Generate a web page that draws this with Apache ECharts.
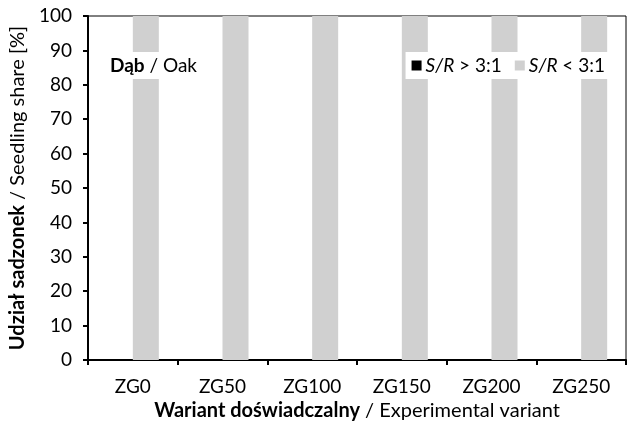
<!DOCTYPE html>
<html><head><meta charset="utf-8">
<script src="https://cdn.jsdelivr.net/npm/echarts@6/dist/echarts.min.js"></script>
<style>html,body{margin:0;padding:0;background:#fff}#c{width:631px;height:426px}</style>
</head><body><div id="c"></div>
<script>
const categories = ['ZG0','ZG50','ZG100','ZG150','ZG200','ZG250'];
const seriesAbove = [0,0,0,0,0,0];      // S/R > 3:1
const seriesBelow = [100,100,100,100,100,100]; // S/R < 3:1
const yTicks = [0,10,20,30,40,50,60,70,80,90,100];

const FONT = 'Lato';
const FS = 19;
const FN = 20;
const chart = echarts.init(document.getElementById('c'), null, {renderer:'canvas'});
chart.setOption({
  animation:false,
  textStyle:{fontFamily:FONT, color:'#000'},
  grid:{left:88, right:5, top:16, bottom:66, show:true, borderColor:'#000', borderWidth:1, backgroundColor:'transparent'},
  title:{
    text:'{b|Dąb} / Oak', left:104, top:52,
    backgroundColor:'#fff', padding:[4,6,4,6],
    textStyle:{fontFamily:FONT, fontSize:FS, fontWeight:'normal', color:'#000',
      rich:{b:{fontFamily:FONT, fontSize:FS, fontWeight:'bold', color:'#000'}}}
  },
  legend:{
    right:20, top:52, backgroundColor:'#fff', padding:[4,6,4,6],
    itemWidth:10, itemHeight:10, itemGap:13, icon:'rect',
    data:['S/R > 3:1','S/R < 3:1'],
    formatter: n => n.replace('S/R','{i|S/R}'),
    textStyle:{fontFamily:FONT, fontSize:FS, color:'#000', padding:[0,0,0,-1],
      rich:{i:{fontFamily:FONT, fontSize:FS, fontStyle:'italic', color:'#000'}}}
  },
  xAxis:{
    type:'category', data:categories,
    axisLine:{lineStyle:{color:'#000', width:2}},
    axisTick:{show:true, length:5, lineStyle:{color:'#000', width:2}},
    axisLabel:{fontFamily:FONT, fontSize:FS, color:'#000', margin:17},
    name:'{b|Wariant doświadczalny} / Experimental variant',
    nameLocation:'middle', nameGap:40,
    nameTextStyle:{fontFamily:FONT, fontSize:FN, color:'#000',
      rich:{b:{fontFamily:FONT, fontSize:FN, fontWeight:'bold', color:'#000'}}}
  },
  yAxis:{
    type:'value', min:0, max:100, interval:10,
    splitLine:{show:false},
    axisLine:{show:true, lineStyle:{color:'#000', width:2}},
    axisTick:{show:true, length:5, lineStyle:{color:'#000', width:2}},
    axisLabel:{fontFamily:FONT, fontSize:FS, color:'#000', margin:16,
      formatter: v => yTicks.includes(v) ? String(v) : ''},
    name:'{b|Udział sadzonek} / Seedling share [%]',
    nameLocation:'middle', nameGap:57, nameRotate:90,
    nameTextStyle:{fontFamily:FONT, fontSize:FN, color:'#000',
      rich:{b:{fontFamily:FONT, fontSize:FN, fontWeight:'bold', color:'#000'}}}
  },
  series:[
    {name:'S/R > 3:1', type:'bar', data:seriesAbove, barWidth:26, barGap:'0%', itemStyle:{color:'#000'}},
    {name:'S/R < 3:1', type:'bar', data:seriesBelow, barWidth:26, barGap:'0%', itemStyle:{color:'#d0d0d0'}}
  ]
});
</script></body></html>
